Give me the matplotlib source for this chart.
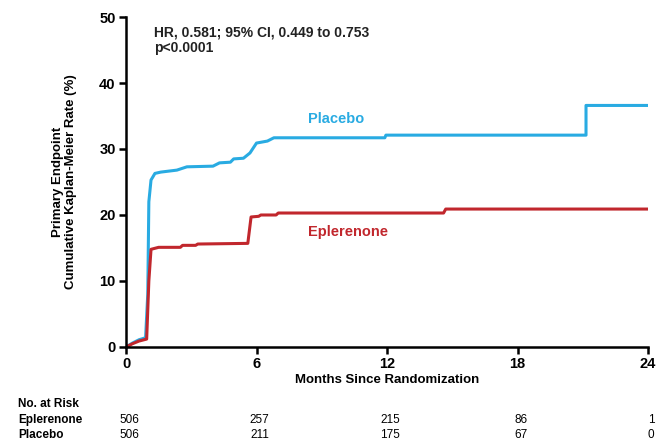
import matplotlib
matplotlib.use('Agg')
from matplotlib import pyplot as plt

plt.rcParams['font.family'] = ['Liberation Sans', 'DejaVu Sans']

# DATA
PLA_T = [0, 0.3, 0.6, 0.9, 1.0, 1.05, 1.15, 1.33, 1.6, 2.34, 2.8, 4.0, 4.3, 4.8, 4.95, 5.4, 5.7, 6.0, 6.5,
         6.8, 11.9, 11.95, 21.15, 21.15, 24]
PLA_Y = [0, 0.6, 1.1, 1.4, 8, 22, 25.3, 26.3, 26.5, 26.8, 27.3, 27.4, 27.9, 28.0, 28.5, 28.6, 29.4, 30.9, 31.2,
         31.7, 31.7, 32.1, 32.1, 36.6, 36.6]
EPL_T = [0, 0.3, 0.6, 0.95, 1.05, 1.15, 1.5, 2.5, 2.6, 3.2, 3.3, 5.6, 5.75, 6.1, 6.2, 6.9, 7.0, 14.6, 14.7, 24]
EPL_Y = [0, 0.5, 0.9, 1.2, 10, 14.8, 15.1, 15.1, 15.4, 15.4, 15.6, 15.7, 19.7, 19.8, 20.0, 20.0, 20.3, 20.3,
         20.9, 20.9]
RISK_T = [0, 6, 12, 18, 24]
RISK_EPL = [506, 257, 215, 86, 1]
RISK_PLA = [506, 211, 175, 67, 0]
BLUE = '#29abe2'
RED = '#c1272d'

fig = plt.figure(figsize=(6.58, 4.44), dpi=100)
ax = fig.add_axes([0.1915, 0.2185, 0.7933, 0.7432])

ax.plot(PLA_T, PLA_Y, color=BLUE, lw=2.2, solid_joinstyle='round')
ax.plot(EPL_T, EPL_Y, color=RED, lw=2.2, solid_joinstyle='round')

ax.set_xlim(0, 24)
ax.set_ylim(0, 50)
ax.set_xticks(RISK_T)
ax.set_yticks(range(0, 51, 10))
for s in ('top', 'right'):
    ax.spines[s].set_visible(False)
for s in ('left', 'bottom'):
    ax.spines[s].set_linewidth(1.8)
ax.tick_params(width=1.8, length=5, labelsize=10.5, pad=2.5)
for lab in ax.get_xticklabels() + ax.get_yticklabels():
    lab.set_fontweight('bold')

ax.set_xlabel('Months Since Randomization', fontsize=9.5, fontweight='bold', labelpad=2)
ax.set_ylabel('Primary Endpoint\nCumulative Kaplan-Meier Rate (%)', fontsize=9.5, fontweight='bold',
              labelpad=16, linespacing=1.1)

ax.text(1.29, 48.7, 'HR, 0.581; 95% CI, 0.449 to 0.753\np<0.0001', fontsize=10, fontweight='bold',
        va='top', ha='left', color='#222222', linespacing=1.15)
ax.text(9.66, 34.5, 'Placebo', color=BLUE, fontsize=10.5, fontweight='bold', ha='center', va='center')
ax.text(10.2, 17.4, 'Eplerenone', color=RED, fontsize=10.5, fontweight='bold', ha='center', va='center')

# at-risk table
fig.text(18/658, 1-404/444, 'No. at Risk', fontsize=8.5, fontweight='bold', va='center')
fig.text(18/658, 1-420/444, 'Eplerenone', fontsize=8.5, fontweight='bold', va='center')
fig.text(18/658, 1-435/444, 'Placebo', fontsize=8.5, fontweight='bold', va='center')
tr = ax.get_xaxis_transform()
for t, e, p in zip(RISK_T, RISK_EPL, RISK_PLA):
    ax.text(t + 0.15, -(420-347)/330, str(e), transform=tr, fontsize=8.5, ha='center', va='center', clip_on=False)
    ax.text(t + 0.15, -(435-347)/330, str(p), transform=tr, fontsize=8.5, ha='center', va='center', clip_on=False)

fig.savefig('out.png', dpi=100)
